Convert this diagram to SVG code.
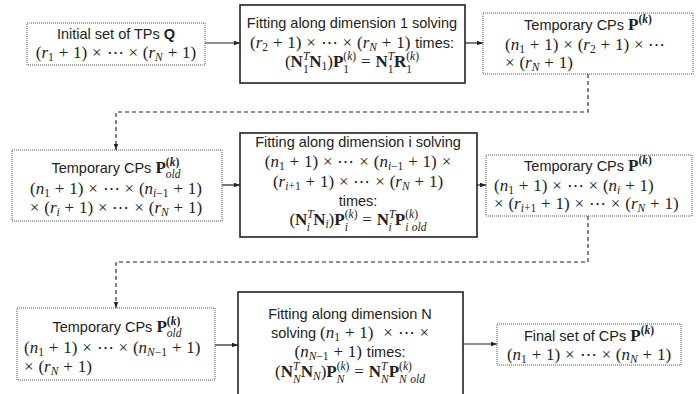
<svg xmlns="http://www.w3.org/2000/svg" width="697" height="394" viewBox="0 0 697 394">
<style>
.bg{fill:#fff}
.dot{fill:#fff;stroke:#555;stroke-width:1;stroke-dasharray:1 1}
.sol{fill:#fff;stroke:#222;stroke-width:1.6}
.t{font-family:"Liberation Sans",Arial,sans-serif;font-size:14.5px;fill:#222;word-spacing:0}
.m{font-family:"Liberation Serif","DejaVu Serif",serif;font-size:17px;fill:#222;word-spacing:0.6px}
.i{font-style:italic}
.b{font-weight:bold}
.s{font-size:11.5px}
.c{fill:none;stroke:#222;stroke-width:1.2}
.d{fill:none;stroke:#222;stroke-width:1.1;stroke-dasharray:4 3}
</style>
<defs>
<marker id="ah" viewBox="0 0 6 6" refX="6" refY="3" markerWidth="6" markerHeight="6" markerUnits="userSpaceOnUse" orient="auto">
<path d="M0,0.8 L6,3 L0,5.2 Z" fill="#222"/>
</marker>
</defs>
<rect class="bg" width="697" height="394"/>

<g id="connectors">
<path class="c" d="M205,43 H240" marker-end="url(#ah)"/>
<path class="c" d="M465,43 H483" marker-end="url(#ah)"/>
<path class="d" d="M588,74 V112 H116 V150" marker-end="url(#ah)"/>
<path class="c" d="M222,185 H240" marker-end="url(#ah)"/>
<path class="c" d="M477,185 H486" marker-end="url(#ah)"/>
<path class="d" d="M588,216 V262 H116 V308" marker-end="url(#ah)"/>
<path class="c" d="M215,345 H238" marker-end="url(#ah)"/>
<path class="c" d="M463,344 H497" marker-end="url(#ah)"/>
</g>

<g id="initial-tps">
<rect class="dot" x="27" y="23" width="178" height="42"/>
<text class="t" x="116" y="39" text-anchor="middle">Initial set of TPs <tspan class="b">Q</tspan></text>
<text class="m" x="116" y="58" text-anchor="middle">(<tspan class="i">r</tspan><tspan class="s" dy="3">1</tspan><tspan dy="-3"> + 1) × ⋯ × (</tspan><tspan class="i">r</tspan><tspan class="s i" dy="3">N</tspan><tspan dy="-3"> + 1)</tspan></text>
</g>

<g id="fit-dim1">
<rect class="sol" x="240" y="5" width="225" height="78"/>
<text class="t" x="352" y="28" text-anchor="middle">Fitting along dimension 1 solving</text>
<text class="m" x="352" y="48" text-anchor="middle">(<tspan class="i">r</tspan><tspan class="s" dy="3">2</tspan><tspan dy="-3"> + 1) × ⋯ × (</tspan><tspan class="i">r</tspan><tspan class="s i" dy="3">N</tspan><tspan dy="-3"> + 1) </tspan><tspan class="t">times:</tspan></text>
<text class="m" x="352" y="67" text-anchor="middle">(<tspan class="b">N</tspan><tspan class="s i" dy="-7">T</tspan><tspan class="s" dx="-6.4" dy="12.5">1</tspan><tspan class="b" dx="0.6" dy="-5.5">N</tspan><tspan class="s" dy="3">1</tspan><tspan dy="-3">)</tspan><tspan class="b">P</tspan><tspan class="s" dy="5.5">1</tspan><tspan class="s" dx="-5.8" dy="-12.5">(<tspan class="i">k</tspan>)</tspan><tspan dy="7"> = </tspan><tspan class="b">N</tspan><tspan class="s i" dy="-7">T</tspan><tspan class="s" dx="-6.4" dy="12.5">1</tspan><tspan class="b" dx="0.6" dy="-5.5">R</tspan><tspan class="s" dy="5.5">1</tspan><tspan class="s" dx="-5.8" dy="-12.5">(<tspan class="i">k</tspan>)</tspan></text>
</g>

<g id="temp-cps-1">
<rect class="dot" x="483" y="13" width="210" height="61"/>
<text class="t" x="588" y="30" text-anchor="middle">Temporary CPs <tspan class="m b">P</tspan><tspan class="m s b" dy="-7">(<tspan class="i">k</tspan>)</tspan></text>
<text class="m" x="505" y="50">(<tspan class="i">n</tspan><tspan class="s" dy="3">1</tspan><tspan dy="-3"> + 1) × (</tspan><tspan class="i">r</tspan><tspan class="s" dy="3">2</tspan><tspan dy="-3"> + 1) × ⋯</tspan></text>
<text class="m" x="505" y="68">× (<tspan class="i">r</tspan><tspan class="s i" dy="3">N</tspan><tspan dy="-3"> + 1)</tspan></text>
</g>

<g id="temp-cps-old-i">
<rect class="dot" x="12" y="150" width="210" height="71"/>
<text class="t" x="116" y="173" text-anchor="middle">Temporary CPs <tspan class="m b">P</tspan><tspan class="m s b" dy="-7">(<tspan class="i">k</tspan>)</tspan><tspan class="m s i" dx="-13.4" dy="11.5">old</tspan></text>
<text class="m" x="116" y="194" text-anchor="middle">(<tspan class="i">n</tspan><tspan class="s" dy="3">1</tspan><tspan dy="-3"> + 1) × ⋯ × (</tspan><tspan class="i">n</tspan><tspan class="s" dy="3"><tspan class="i">i</tspan>−1</tspan><tspan dy="-3"> + 1)</tspan></text>
<text class="m" x="116" y="213" text-anchor="middle">× (<tspan class="i">r</tspan><tspan class="s i" dy="3">i</tspan><tspan dy="-3"> + 1) × ⋯ × (</tspan><tspan class="i">r</tspan><tspan class="s i" dy="3">N</tspan><tspan dy="-3"> + 1)</tspan></text>
</g>

<g id="fit-dim-i">
<rect class="sol" x="240" y="133" width="237" height="104"/>
<text class="t" x="358" y="147" text-anchor="middle">Fitting along dimension i solving</text>
<text class="m" x="358" y="167" text-anchor="middle">(<tspan class="i">n</tspan><tspan class="s" dy="3">1</tspan><tspan dy="-3"> + 1) × ⋯ × (</tspan><tspan class="i">n</tspan><tspan class="s" dy="3"><tspan class="i">i</tspan>−1</tspan><tspan dy="-3"> + 1) ×</tspan></text>
<text class="m" x="358" y="187" text-anchor="middle">(<tspan class="i">r</tspan><tspan class="s" dy="3"><tspan class="i">i</tspan>+1</tspan><tspan dy="-3"> + 1) × ⋯ × (</tspan><tspan class="i">r</tspan><tspan class="s i" dy="3">N</tspan><tspan dy="-3"> + 1)</tspan></text>
<text class="t" x="358" y="206" text-anchor="middle">times:</text>
<text class="m" x="358" y="225" text-anchor="middle">(<tspan class="b">N</tspan><tspan class="s i" dy="-7">T</tspan><tspan class="s i" dx="-6.4" dy="12.5">i</tspan><tspan class="b" dx="3.2" dy="-5.5">N</tspan><tspan class="s i" dy="3">i</tspan><tspan dy="-3">)</tspan><tspan class="b">P</tspan><tspan class="s i" dy="5.5">i</tspan><tspan class="s" dx="-3.2" dy="-12.5">(<tspan class="i">k</tspan>)</tspan><tspan dy="7"> = </tspan><tspan class="b">N</tspan><tspan class="s i" dy="-7">T</tspan><tspan class="s i" dx="-6.4" dy="12.5">i</tspan><tspan class="b" dx="3.2" dy="-5.5">P</tspan><tspan class="s" dy="-7">(<tspan class="i">k</tspan>)</tspan><tspan class="s i" dx="-12.8" dy="12.5">i old</tspan></text>
</g>

<g id="temp-cps-i">
<rect class="dot" x="486" y="155" width="206" height="61"/>
<text class="t" x="588" y="171" text-anchor="middle">Temporary CPs <tspan class="m b">P</tspan><tspan class="m s b" dy="-7">(<tspan class="i">k</tspan>)</tspan></text>
<text class="m" x="494" y="191">(<tspan class="i">n</tspan><tspan class="s" dy="3">1</tspan><tspan dy="-3"> + 1) × ⋯ × (</tspan><tspan class="i">n</tspan><tspan class="s i" dy="3">i</tspan><tspan dy="-3"> + 1)</tspan></text>
<text class="m" x="494" y="209">× (<tspan class="i">r</tspan><tspan class="s" dy="3"><tspan class="i">i</tspan>+1</tspan><tspan dy="-3"> + 1) × ⋯ × (</tspan><tspan class="i">r</tspan><tspan class="s i" dy="3">N</tspan><tspan dy="-3"> + 1)</tspan></text>
</g>

<g id="temp-cps-old-n">
<rect class="dot" x="17" y="308" width="198" height="72"/>
<text class="t" x="117" y="332" text-anchor="middle">Temporary CPs <tspan class="m b">P</tspan><tspan class="m s b" dy="-7">(<tspan class="i">k</tspan>)</tspan><tspan class="m s i" dx="-13.4" dy="11.5">old</tspan></text>
<text class="m" x="24" y="353">(<tspan class="i">n</tspan><tspan class="s" dy="3">1</tspan><tspan dy="-3"> + 1) × ⋯ × (</tspan><tspan class="i">n</tspan><tspan class="s" dy="3"><tspan class="i">N</tspan>−1</tspan><tspan dy="-3"> + 1)</tspan></text>
<text class="m" x="24" y="372">× (<tspan class="i">r</tspan><tspan class="s i" dy="3">N</tspan><tspan dy="-3"> + 1)</tspan></text>
</g>

<g id="fit-dim-n">
<rect class="sol" x="238" y="292" width="225" height="110"/>
<text class="t" x="350" y="319" text-anchor="middle">Fitting along dimension N</text>
<text class="m" x="350" y="338" text-anchor="middle"><tspan class="t">solving </tspan>(<tspan class="i">n</tspan><tspan class="s" dy="3">1</tspan><tspan dy="-3"> + 1)&#160;&#160;× ⋯ ×</tspan></text>
<text class="m" x="350" y="357" text-anchor="middle">(<tspan class="i">n</tspan><tspan class="s" dy="3"><tspan class="i">N</tspan>−1</tspan><tspan dy="-3"> + 1) </tspan><tspan class="t">times:</tspan></text>
<text class="m" x="350" y="377" text-anchor="middle">(<tspan class="b">N</tspan><tspan class="s i" dy="-7">T</tspan><tspan class="s i" dx="-6.4" dy="12.5">N</tspan><tspan class="b" dy="-5.5">N</tspan><tspan class="s i" dy="3">N</tspan><tspan dy="-3">)</tspan><tspan class="b">P</tspan><tspan class="s i" dy="5.5">N</tspan><tspan class="s" dx="-7.7" dy="-12.5">(<tspan class="i">k</tspan>)</tspan><tspan dy="7"> = </tspan><tspan class="b">N</tspan><tspan class="s i" dy="-7">T</tspan><tspan class="s i" dx="-6.4" dy="12.5">N</tspan><tspan class="b" dy="-5.5">P</tspan><tspan class="s" dy="-7">(<tspan class="i">k</tspan>)</tspan><tspan class="s i" dx="-12.8" dy="12.5">N old</tspan></text>
</g>

<g id="final-cps">
<rect class="dot" x="497" y="324" width="184" height="41"/>
<text class="t" x="589" y="341" text-anchor="middle">Final set of CPs <tspan class="m b">P</tspan><tspan class="m s b" dy="-7">(<tspan class="i">k</tspan>)</tspan></text>
<text class="m" x="589" y="360" text-anchor="middle">(<tspan class="i">n</tspan><tspan class="s" dy="3">1</tspan><tspan dy="-3"> + 1) × ⋯ × (</tspan><tspan class="i">n</tspan><tspan class="s i" dy="3">N</tspan><tspan dy="-3"> + 1)</tspan></text>
</g>
</svg>
